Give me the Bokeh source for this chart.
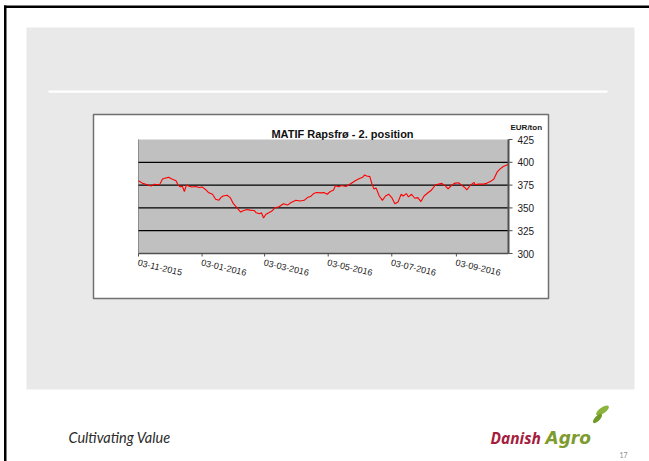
import numpy as np
import pandas as pd
from bokeh.plotting import figure
from bokeh.models import Range1d
from bokeh.core.properties import value
from bokeh.embed import file_html
from bokeh.resources import INLINE

# ---------------- data ----------------
dates = [
    "2015-11-03", "2015-11-07", "2015-11-10", "2015-11-15", "2015-11-18", "2015-11-23",
    "2015-11-24", "2015-11-26", "2015-11-29", "2015-12-02", "2015-12-05", "2015-12-09",
    "2015-12-11", "2015-12-13", "2015-12-15", "2015-12-17", "2015-12-19", "2015-12-21",
    "2015-12-24", "2015-12-28", "2015-12-31", "2016-01-03", "2016-01-06", "2016-01-09",
    "2016-01-13", "2016-01-16", "2016-01-19", "2016-01-21", "2016-01-23", "2016-01-27",
    "2016-01-30", "2016-02-02", "2016-02-06", "2016-02-09", "2016-02-12", "2016-02-15",
    "2016-02-18", "2016-02-22", "2016-02-24", "2016-02-27", "2016-02-29", "2016-03-02",
    "2016-03-04", "2016-03-07", "2016-03-10", "2016-03-13", "2016-03-17", "2016-03-21",
    "2016-03-25", "2016-03-28", "2016-04-02", "2016-04-06", "2016-04-10", "2016-04-13",
    "2016-04-16", "2016-04-19", "2016-04-22", "2016-04-26", "2016-04-29", "2016-05-02",
    "2016-05-05", "2016-05-08", "2016-05-10", "2016-05-13", "2016-05-16", "2016-05-20",
    "2016-05-23", "2016-05-26", "2016-05-29", "2016-06-01", "2016-06-05", "2016-06-07",
    "2016-06-09", "2016-06-12", "2016-06-14", "2016-06-16", "2016-06-18", "2016-06-21",
    "2016-06-24", "2016-06-27", "2016-06-30", "2016-07-03", "2016-07-06", "2016-07-09",
    "2016-07-12", "2016-07-14", "2016-07-17", "2016-07-19", "2016-07-22", "2016-07-25",
    "2016-07-28", "2016-07-31", "2016-08-03", "2016-08-07", "2016-08-10", "2016-08-14",
    "2016-08-17", "2016-08-20", "2016-08-23", "2016-08-26", "2016-08-29", "2016-09-01",
    "2016-09-05", "2016-09-08", "2016-09-11", "2016-09-13", "2016-09-16", "2016-09-20",
    "2016-09-21", "2016-09-24", "2016-09-29", "2016-10-02", "2016-10-06", "2016-10-09",
    "2016-10-12", "2016-10-15", "2016-10-18", "2016-10-22", "2016-10-23",
]
prices = [
    379.8, 376.9, 376.0, 373.9, 376.0, 375.4,
    377.0, 381.7, 382.8, 383.5, 381.7, 379.8,
    375.0, 373.0, 374.0, 368.0, 375.0, 374.0,
    373.0, 373.5, 372.4, 373.0, 370.5, 366.9,
    365.0, 359.4, 358.3, 361.3, 363.0, 363.9,
    361.3, 354.6, 349.4, 345.4, 347.2, 348.3,
    347.6, 347.2, 344.6, 343.5, 344.6, 339.0,
    342.8, 344.6, 346.5, 350.2, 351.3, 354.6,
    353.1, 355.7, 358.3, 357.6, 358.3, 361.3,
    362.4, 365.7, 366.9, 366.5, 366.8, 365.0,
    368.0, 369.4, 374.3, 373.1, 374.6, 373.5,
    375.4, 377.6, 379.8, 381.7, 383.5, 386.1,
    385.0, 384.3, 376.1, 370.6, 371.7, 363.1,
    358.3, 363.1, 365.0, 361.3, 354.6, 356.5,
    365.0, 363.1, 365.7, 362.0, 365.0, 360.6,
    361.3, 356.9, 363.1, 366.9, 369.4, 375.4,
    376.1, 376.9, 374.6, 370.9, 374.3, 376.9,
    377.6, 375.0, 372.4, 369.8, 374.3, 378.0,
    375.4, 376.1, 376.1, 376.9, 379.1, 381.7,
    389.1, 392.8, 395.4, 397.2, 398.3,
]
x_start, x_end = "2015-11-03", "2016-10-23"
x_ticks = ["2015-11-03", "2016-01-03", "2016-03-03", "2016-05-03", "2016-07-03", "2016-09-03"]
x_tick_labels = ["03-11-2015", "03-01-2016", "03-03-2016", "03-05-2016", "03-07-2016", "03-09-2016"]
y_ticks = [300, 325, 350, 375, 400, 425]
y_tick_labels = ["300", "325", "350", "375", "400", "425"]
title_text = "MATIF Rapsfrø - 2. position"
unit_text = "EUR/ton"

# ---------------- page / slide canvas (page pixel units) ----------------
W, H = 649, 461

p = figure(width=W, height=H, x_range=Range1d(0, W), y_range=Range1d(H, 0),
           output_backend="svg", toolbar_location=None, min_border=0,
           x_axis_location=None, y_axis_location=None,
           background_fill_color="white", border_fill_color="white",
           outline_line_color=None)
p.grid.visible = False

# slide frame lines
p.quad(left=[3.5], right=[W], top=[5], bottom=[7.4], fill_color="#000000", line_color=None)
p.quad(left=[3.5], right=[6], top=[5], bottom=[H], fill_color="#000000", line_color=None)
# grey content panel
p.quad(left=[26], right=[634], top=[27], bottom=[389], fill_color="#e9e9e9", line_color=None)
# white rule
p.quad(left=[48], right=[607], top=[90], bottom=[92.3], fill_color="white", line_color=None)
# chart box
p.quad(left=[93], right=[548], top=[114], bottom=[298],
       fill_color="white", line_color="#707070", line_width=1.5)

# ---------------- chart (sub-coordinates) ----------------
d0 = pd.Timestamp(x_start)
d1 = pd.Timestamp(x_end)
xy = p.subplot(
    x_source=Range1d(d0, d1), y_source=Range1d(y_ticks[0], y_ticks[-1]),
    x_target=Range1d(138, 508), y_target=Range1d(253, 139),
)

dt = pd.to_datetime(dates)
xt = pd.to_datetime(x_ticks)

xy.quad(left=[d0], right=[d1], bottom=[y_ticks[0]], top=[y_ticks[-1]],
        fill_color="#c0c0c0", line_color=None)
xy.segment(x0=[d0], x1=[d0], y0=[y_ticks[0]], y1=[y_ticks[-1]], line_color="#8c8c8c", line_width=1)
grid_vals = y_ticks[1:-1]
xy.segment(x0=[d0] * len(grid_vals), x1=[d1] * len(grid_vals), y0=grid_vals, y1=grid_vals,
           line_color="#000000", line_width=1.3)

xy.line(x=dt, y=prices, line_color="#ff0000", line_width=1.1)

# bottom axis
xy.segment(x0=[d0], x1=[d1], y0=[y_ticks[0]], y1=[y_ticks[0]], line_color="#505050", line_width=1.5)
xy.ray(x=xt, y=[y_ticks[0]] * len(xt), length=3, length_units="screen", angle=-np.pi / 2,
       line_color="#505050", line_width=1)
xy.text(x=xt, y=[y_ticks[0]] * len(xt), text=x_tick_labels, x_offset=0, y_offset=6,
        angle=-0.23, text_align="left", text_baseline="top",
        text_font=value("Liberation Sans"), text_font_size="9px", text_color="#222222")

# right axis
xy.segment(x0=[d1], x1=[d1], y0=[y_ticks[0]], y1=[y_ticks[-1]], line_color="#505050", line_width=2)
xy.ray(x=[d1] * len(y_ticks), y=y_ticks, length=4, length_units="screen", angle=0,
       line_color="#505050", line_width=1)
xy.text(x=[d1] * len(y_ticks), y=y_ticks, text=y_tick_labels, x_offset=9,
        text_align="left", text_baseline="middle",
        text_font=value("Liberation Sans"), text_font_size="10px", text_color="#1a1a1a")
xy.text(x=[d1], y=[y_ticks[-1]], text=[unit_text], x_offset=2, y_offset=-12,
        text_align="left", text_baseline="middle", text_font=value("Liberation Sans"),
        text_font_style="bold", text_font_size="8px", text_color="#1a1a1a")

# chart title
p.text(x=[342], y=[133], text=[title_text], text_align="center", text_baseline="middle",
       text_font=value("Liberation Sans"), text_font_style="bold", text_font_size="11px",
       text_color="#111111")

# ---------------- footer ----------------
p.text(x=[68], y=[437], text=["Cultivating Value"], text_align="left",
       text_baseline="alphabetic", text_font=value("Lato"), text_font_style="italic",
       text_font_size="14.5px", text_color="#2b2b2b")
p.text(x=[490], y=[437], text=["Danish"], text_align="left", text_baseline="alphabetic",
       text_font=value("Open Sans"), text_font_style="bold italic", text_font_size="15.5px",
       text_color="#a51c3c")
p.text(x=[545], y=[437], text=["Agro"], text_align="left", text_baseline="alphabetic",
       text_font=value("DejaVu Sans"), text_font_style="bold italic", text_font_size="17px",
       text_color="#7d9b2e")
p.ellipse(x=[602], y=[410], width=[15], height=[6], angle=[0.6],
          fill_color="#8cb43c", line_color=None)
p.ellipse(x=[597], y=[418], width=[12], height=[5], angle=[0.8],
          fill_color="#6f9a28", line_color=None)
p.text(x=[619], y=[454], text=["17"], text_align="left", text_baseline="alphabetic",
       text_font=value("Lato"), text_font_size="7px", text_color="#8c8c8c")

with open("out.html", "w", encoding="utf-8") as f:
    f.write(file_html(p, INLINE))
